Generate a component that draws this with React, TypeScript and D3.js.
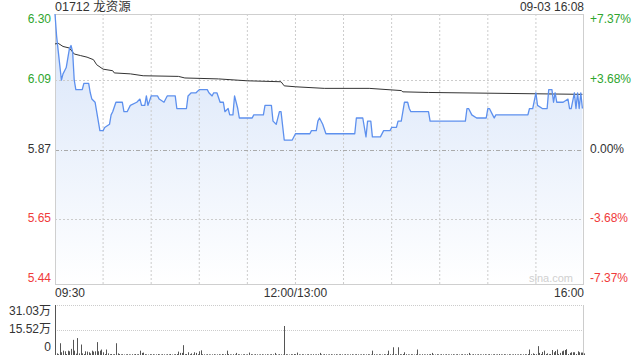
import React from "react";
import * as d3 from "d3";

const title = "01712 龙资源";
const stamp = "09-03 16:08";
const prevClose = 5.87;
const priceTicks = [6.30, 6.09, 5.87, 5.65, 5.44];
const pctTicks = ["+7.37%", "+3.68%", "0.00%", "-3.68%", "-7.37%"];
const timeLabels = ["09:30", "12:00/13:00", "16:00"];
const timeLabelMinutes = [0, 150, 330];
const volTicks = ["31.03万", "15.52万", "0"];
const volMax = 31.03;

// minute offsets (0 = 09:30, 150 = 12:00/13:00, 330 = 16:00) and prices
const priceMinutes = [0,1,4,5,6,7,8,9,10,11,12,13,17,18,21,22,23,25,26,28,30,31,34,35,36,38,42,43,45,47,51,53,54,56,57,58,60,64,65,68,70,75,76,82,83,85,88,90,95,96,98,99,101,103,105,106,108,109,111,112,114,115,123,124,130,131,135,136,138,140,141,143,148,150,159,160,163,164,165,167,169,187,188,192,194,195,197,198,203,205,209,210,213,214,216,218,220,221,222,233,234,256,257,258,260,263,269,270,271,273,274,275,295,296,298,300,301,304,307,308,310,311,312,313,317,320,321,322,324,325,326,327,328,329];
const priceValues = [6.30,6.23,6.09,6.11,6.12,6.13,6.16,6.19,6.20,6.18,6.09,6.06,6.06,6.08,6.08,6.05,6.03,6.02,5.99,5.93,5.93,5.94,5.95,5.98,5.99,6.02,6.02,5.99,5.99,6.01,6.02,6.03,6.01,6.01,6.04,6.01,6.04,6.04,6.03,6.02,6.04,6.04,6.00,6.00,6.04,6.05,6.05,6.06,6.06,6.05,6.04,6.05,6.05,6.02,6.02,5.99,6.00,5.98,5.98,6.04,6.00,5.97,5.97,5.98,5.98,6.01,6.01,5.96,5.95,5.99,5.99,5.90,5.90,5.92,5.92,5.93,5.93,5.96,5.97,5.95,5.92,5.92,5.97,5.97,5.91,5.96,5.96,5.91,5.91,5.93,5.93,5.94,5.94,5.96,5.96,6.02,6.02,6.00,5.99,5.99,5.96,5.96,6.00,6.00,5.98,5.97,5.97,6.00,6.00,5.98,5.97,5.98,5.98,6.00,6.00,6.05,6.01,6.00,6.00,6.06,6.06,6.02,6.05,6.02,6.02,6.03,6.00,6.00,6.05,6.00,6.05,6.00,6.05,6.00];

const avgMinutes = [0,2,5,9,12,16,20,24,26,30,36,37,47,55,77,81,102,120,141,143,150,168,196,216,217,233,329];
const avgValues = [6.205,6.207,6.197,6.192,6.173,6.168,6.163,6.155,6.139,6.125,6.12,6.113,6.11,6.104,6.102,6.097,6.094,6.088,6.085,6.072,6.069,6.064,6.064,6.057,6.053,6.051,6.045];

// volume per minute, in 万 shares
const volumes = [
31.03,1.0,0.5,7.3,1.7,2.7,2.3,0.6,2.7,2.3,
3.8,9.4,2.7,0.8,10.5,1.0,6.5,1.0,0.6,2.3,
2.1,1.7,1.0,2.7,2.1,2.3,8.0,2.3,2.7,3.4,
1.7,0.6,3.4,1.0,0.5,0.6,0.4,0.5,7.3,1.0,
0.6,0.4,0.5,0.3,0.4,0.5,0.4,0.3,0.5,0.4,
0.6,0.4,0.5,2.7,1.3,1.5,0.5,0.4,0.3,0.5,
0.4,0.5,0.3,0.4,0.6,0.4,0.3,0.5,0.4,0.3,
0.5,0.4,0.6,0.3,0.4,0.5,0.6,2.1,1.3,1.3,
6.1,0.5,0.6,1.7,0.5,1.0,0.4,1.7,1.3,0.5,
2.3,2.9,0.5,0.4,0.3,0.5,0.4,0.3,0.4,0.5,
0.3,0.4,0.5,0.3,0.6,0.4,0.5,2.7,0.6,0.4,
0.3,0.5,0.4,1.3,0.5,0.4,0.3,0.4,0.5,0.3,
0.4,1.5,0.5,0.4,0.3,0.5,0.4,0.3,0.4,0.5,
0.3,0.4,0.5,0.3,0.4,0.5,0.4,1.3,0.4,0.3,
0.5,0.4,0.3,18.0,0.5,0.4,0.3,0.5,0.4,0.6,
0.5,1.5,0.4,0.3,0.5,0.4,0.3,0.4,0.5,0.3,
0.4,0.5,0.3,0.4,0.5,1.3,0.4,0.3,0.5,0.4,
0.3,0.4,0.5,0.3,0.4,0.5,0.3,0.4,0.5,0.4,
0.3,0.5,0.4,0.3,0.4,0.5,0.3,0.4,0.5,0.4,
0.3,0.4,0.5,0.3,0.4,0.5,0.4,0.3,2.7,0.5,
0.4,0.3,0.5,0.4,0.3,0.5,0.4,0.6,2.7,0.5,
0.4,4.8,0.5,0.4,4.8,0.5,0.4,0.6,1.7,0.5,
0.4,0.3,0.5,0.4,0.3,0.5,3.4,0.4,0.3,0.5,
0.4,0.3,0.5,0.4,0.6,1.3,0.4,0.3,0.5,0.4,
0.3,0.5,0.4,0.3,0.5,0.4,0.3,0.4,0.5,0.3,
0.4,0.5,0.3,0.4,0.5,0.3,0.4,0.5,1.3,0.4,
0.3,0.5,0.4,0.3,0.5,0.4,0.3,0.4,0.5,0.3,
0.4,0.5,0.3,0.4,0.5,0.3,0.4,0.6,0.4,0.3,
0.5,0.4,0.3,0.5,0.4,0.3,0.4,0.5,0.3,0.4,
0.5,0.3,0.4,0.5,0.4,0.6,3.4,0.5,1.0,0.6,
0.5,5.5,1.3,0.6,1.9,2.7,0.6,1.0,0.5,0.6,
3.1,1.7,2.5,3.4,0.6,1.3,2.3,2.7,3.1,3.6,
0.6,1.3,1.7,1.7,1.7,0.6,2.3,1.7,1.5,1.5,
1.0
];

const FONT = "'Liberation Sans', Arial, 'Noto Sans CJK SC', sans-serif";
const GREEN = "#2ea52e";
const RED = "#f03a3a";
const DARK = "#333";

export default function App() {
  const W = 640, H = 360;
  const L = 55, R = 584, T = 14, B = 285;
  const VT = 305, VB = 355;

  const x = d3.scaleLinear().domain([0, 330]).range([L, R]);
  const y = d3.scaleLinear().domain([5.44, 6.30]).range([B, T]);
  const yv = d3.scaleLinear().domain([0, volMax]).range([VB, VT]);

  const pts = priceMinutes.map((m, i) => [m, priceValues[i]] as [number, number]);
  const avgPts = avgMinutes.map((m, i) => [m, avgValues[i]] as [number, number]);

  const line = d3.line<[number, number]>().x(d => x(d[0])).y(d => y(d[1]));
  const area = d3.area<[number, number]>().x(d => x(d[0])).y0(B).y1(d => y(d[1]));

  const vgrid = d3.range(1, 11).map(i => L + (R - L) * i / 11);
  const labelY = (i: number) => {
    const v = y(priceTicks[i]);
    if (i === 0) return v + 6;
    if (i === priceTicks.length - 1) return v - 6;
    return v;
  };
  const tickColor = (i: number) => (i < 2 ? GREEN : i === 2 ? DARK : RED);

  return (
    <svg width={W} height={H} style={{ position: "absolute", left: 0, top: 0, background: "#fff" }}
      fontFamily={FONT} fontSize={12}>
      <defs>
        <linearGradient id="fillg" gradientUnits="userSpaceOnUse" x1="0" y1={T} x2="0" y2={B}>
          <stop offset="0%" stopColor="#d7e4f9" />
          <stop offset="100%" stopColor="#ffffff" />
        </linearGradient>
      </defs>

      <text x={L} y={8} dominantBaseline="middle" fill={DARK} fontSize={12.5}>{title}</text>
      <text x={R} y={8} dominantBaseline="middle" textAnchor="end" fill={DARK} fontSize={12}>{stamp}</text>

      <path d={area(pts) || ""} fill="url(#fillg)" />

      {vgrid.map((gx, i) => (
        <line key={"vg" + i} x1={gx} x2={gx} y1={T} y2={B} stroke="#ccc" strokeDasharray="2,2" />
      ))}
      {priceTicks.map((p, i) => (i === 0 || i === 4 ? null :
        <line key={"hg" + i} x1={L} x2={R} y1={Math.round(y(p)) + 0.5} y2={Math.round(y(p)) + 0.5}
          stroke={p === prevClose ? "#aaa" : "#ccc"}
          strokeDasharray={p === prevClose ? "4,2,1,2" : "2,2"} />
      ))}

      <rect x={L + 0.5} y={T + 0.5} width={R - L - 1} height={B - T - 1} fill="none" stroke="#cfcfcf" />

      <path d={line(avgPts) || ""} fill="none" stroke="#333" strokeWidth={1} />
      <path d={line(pts) || ""} fill="none" stroke="#5d90ee" strokeWidth={1.3} strokeLinejoin="round" />

      {priceTicks.map((p, i) => (
        <text key={"pl" + i} x={51} y={labelY(i)} textAnchor="end" dominantBaseline="middle" fill={tickColor(i)}>
          {p.toFixed(2)}
        </text>
      ))}
      {pctTicks.map((t, i) => (
        <text key={"pr" + i} x={590} y={labelY(i)} dominantBaseline="middle" fill={tickColor(i)}>{t}</text>
      ))}

      <text x={573} y={279} textAnchor="end" dominantBaseline="middle" fill="#d0d0d0" fontSize={11}>sina.com</text>

      {timeLabels.map((t, i) => (
        <text key={"tl" + i} x={x(timeLabelMinutes[i])} y={294}
          textAnchor={i === 0 ? "start" : i === 2 ? "end" : "middle"} dominantBaseline="middle" fill={DARK}>{t}</text>
      ))}

      <line x1={L} x2={R} y1={VT + 0.5} y2={VT + 0.5} stroke="#ccc" strokeDasharray="1,1" />
      <line x1={L} x2={R} y1={yv(volMax / 2) + 0.5} y2={yv(volMax / 2) + 0.5} stroke="#ccc" strokeDasharray="1,1" />
      <line x1={L + 0.5} x2={L + 0.5} y1={VT} y2={VB} stroke="#bbb" />
      <line x1={R - 0.5} x2={R - 0.5} y1={VT} y2={VB} stroke="#ccc" />

      {volumes.map((v, i) => (
        <rect key={"v" + i} x={Math.round(x(i))} y={yv(v)} width={1} height={VB - yv(v)} fill="#555" />
      ))}

      {volTicks.map((t, i) => (
        <text key={"vl" + i} x={51} y={i === 0 ? 312 : i === 1 ? 330 : 348} textAnchor="end"
          dominantBaseline="middle" fill={DARK}>{t}</text>
      ))}
    </svg>
  );
}
